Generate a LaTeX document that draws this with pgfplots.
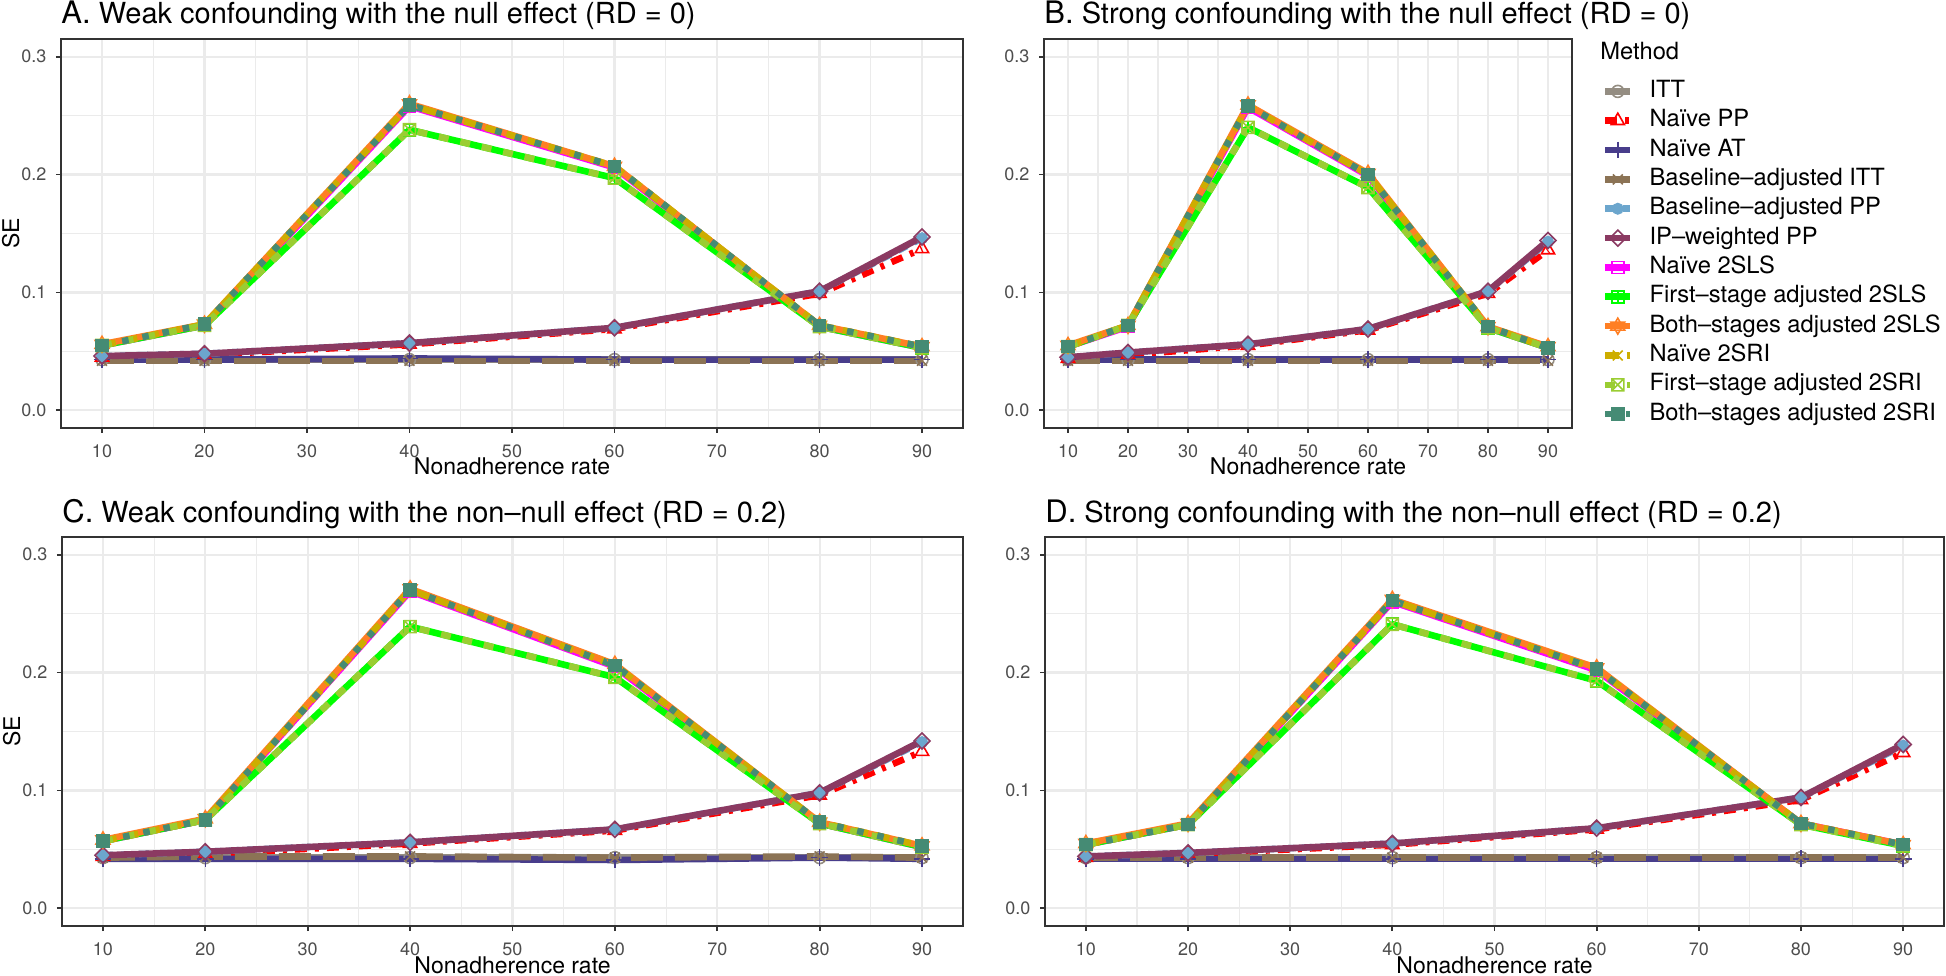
\documentclass[border=0pt]{standalone}
\usepackage{fontspec}
\setmainfont{TeX Gyre Heros}
\usepackage{pgfplots}
\usepackage{pgfplotstable}
\pgfplotsset{compat=1.18}

\definecolor{cITT}{HTML}{948D82}
\definecolor{cNPP}{HTML}{FF0000}
\definecolor{cNAT}{HTML}{483D8B}
\definecolor{cBITT}{HTML}{8B7355}
\definecolor{cBPP}{HTML}{6CA6CD}
\definecolor{cIPW}{HTML}{8B3A62}
\definecolor{cNSLS}{HTML}{FF00FF}
\definecolor{cFSLS}{HTML}{00FF00}
\definecolor{cBSLS}{HTML}{FF7F24}
\definecolor{cNSRI}{HTML}{CDAD00}
\definecolor{cFSRI}{HTML}{9ACD32}
\definecolor{cBSRI}{HTML}{458B74}
\definecolor{gridc}{HTML}{EBEBEB}
\definecolor{grey20}{HTML}{333333}
\definecolor{grey30}{HTML}{4D4D4D}

\pgfdeclareplotmark{rdiamond}{%
 \pgfpathmoveto{\pgfqpoint{0pt}{\pgfplotmarksize}}%
 \pgfpathlineto{\pgfqpoint{\pgfplotmarksize}{0pt}}%
 \pgfpathlineto{\pgfqpoint{0pt}{-\pgfplotmarksize}}%
 \pgfpathlineto{\pgfqpoint{-\pgfplotmarksize}{0pt}}%
 \pgfpathclose\pgfusepathqstroke}
\pgfdeclareplotmark{sqplus}{%
 \pgfpathrectangle{\pgfqpoint{-\pgfplotmarksize}{-\pgfplotmarksize}}{\pgfqpoint{2\pgfplotmarksize}{2\pgfplotmarksize}}%
 \pgfpathmoveto{\pgfqpoint{-\pgfplotmarksize}{0pt}}\pgfpathlineto{\pgfqpoint{\pgfplotmarksize}{0pt}}%
 \pgfpathmoveto{\pgfqpoint{0pt}{-\pgfplotmarksize}}\pgfpathlineto{\pgfqpoint{0pt}{\pgfplotmarksize}}%
 \pgfusepathqstroke}
\pgfdeclareplotmark{sqtimes}{%
 \pgfpathrectangle{\pgfqpoint{-\pgfplotmarksize}{-\pgfplotmarksize}}{\pgfqpoint{2\pgfplotmarksize}{2\pgfplotmarksize}}%
 \pgfpathmoveto{\pgfqpoint{-\pgfplotmarksize}{-\pgfplotmarksize}}\pgfpathlineto{\pgfqpoint{\pgfplotmarksize}{\pgfplotmarksize}}%
 \pgfpathmoveto{\pgfqpoint{-\pgfplotmarksize}{\pgfplotmarksize}}\pgfpathlineto{\pgfqpoint{\pgfplotmarksize}{-\pgfplotmarksize}}%
 \pgfusepathqstroke}
\pgfdeclareplotmark{david}{%
 \pgfpathmoveto{\pgfpointpolar{90}{\pgfplotmarksize}}%
 \pgfpathlineto{\pgfpointpolar{210}{\pgfplotmarksize}}%
 \pgfpathlineto{\pgfpointpolar{330}{\pgfplotmarksize}}%
 \pgfpathclose
 \pgfpathmoveto{\pgfpointpolar{270}{\pgfplotmarksize}}%
 \pgfpathlineto{\pgfpointpolar{30}{\pgfplotmarksize}}%
 \pgfpathlineto{\pgfpointpolar{150}{\pgfplotmarksize}}%
 \pgfpathclose
 \pgfusepathqstroke}

\pgfplotstableread{
x  itt   npp   nat   bitt  bpp   ipw   nsls  fsls  bsls  nsri  fsri  bsri
10 0.043 0.045 0.043 0.042 0.046 0.046 0.055 0.055 0.056 0.055 0.055 0.055
20 0.043 0.047 0.043 0.042 0.048 0.048 0.072 0.072 0.073 0.073 0.072 0.073
40 0.043 0.056 0.044 0.042 0.057 0.057 0.258 0.238 0.260 0.259 0.238 0.259
60 0.043 0.069 0.043 0.042 0.070 0.070 0.206 0.197 0.207 0.207 0.197 0.207
80 0.043 0.099 0.043 0.042 0.101 0.101 0.071 0.071 0.072 0.072 0.071 0.072
90 0.043 0.137 0.043 0.042 0.146 0.147 0.053 0.053 0.054 0.054 0.053 0.054
}\tabA
\pgfplotstableread{
x  itt   npp   nat   bitt  bpp   ipw   nsls  fsls  bsls  nsri  fsri  bsri
10 0.043 0.044 0.043 0.042 0.045 0.045 0.054 0.054 0.055 0.054 0.054 0.054
20 0.043 0.047 0.043 0.042 0.049 0.049 0.071 0.072 0.072 0.072 0.072 0.072
40 0.043 0.055 0.043 0.042 0.056 0.056 0.257 0.240 0.259 0.258 0.240 0.258
60 0.043 0.068 0.043 0.042 0.069 0.069 0.199 0.189 0.201 0.200 0.189 0.200
80 0.043 0.099 0.043 0.042 0.101 0.101 0.070 0.070 0.071 0.071 0.070 0.071
90 0.043 0.136 0.043 0.042 0.143 0.144 0.053 0.053 0.054 0.053 0.053 0.053
}\tabB
\pgfplotstableread{
x  itt   npp   nat   bitt  bpp   ipw   nsls  fsls  bsls  nsri  fsri  bsri
10 0.043 0.044 0.042 0.043 0.045 0.045 0.057 0.057 0.058 0.057 0.057 0.057
20 0.043 0.046 0.042 0.044 0.048 0.048 0.075 0.075 0.076 0.075 0.075 0.075
40 0.043 0.055 0.042 0.044 0.056 0.056 0.269 0.239 0.271 0.270 0.239 0.270
60 0.043 0.066 0.041 0.043 0.067 0.067 0.205 0.196 0.207 0.206 0.196 0.206
80 0.043 0.096 0.043 0.044 0.098 0.098 0.072 0.072 0.073 0.073 0.072 0.073
90 0.043 0.133 0.042 0.043 0.141 0.142 0.052 0.052 0.053 0.053 0.052 0.053
}\tabC
\pgfplotstableread{
x  itt   npp   nat   bitt  bpp   ipw   nsls  fsls  bsls  nsri  fsri  bsri
10 0.043 0.043 0.042 0.043 0.044 0.044 0.054 0.054 0.055 0.054 0.054 0.054
20 0.043 0.046 0.042 0.043 0.047 0.047 0.071 0.071 0.072 0.071 0.071 0.071
40 0.043 0.054 0.042 0.043 0.055 0.055 0.260 0.241 0.262 0.261 0.241 0.261
60 0.043 0.067 0.042 0.043 0.068 0.068 0.202 0.193 0.204 0.203 0.193 0.203
80 0.043 0.092 0.042 0.043 0.094 0.094 0.072 0.071 0.072 0.072 0.071 0.072
90 0.043 0.132 0.042 0.043 0.138 0.139 0.054 0.053 0.054 0.054 0.053 0.054
}\tabD

\tikzset{
 lbase/.style={line width=3.3pt, line cap=butt, line join=round},
 lITT/.style={lbase, color=cITT, solid},
 lNPP/.style={lbase, color=cNPP, dash pattern=on 6pt off 4pt on 2pt off 4pt},
 lNAT/.style={lbase, color=cNAT, solid},
 lBITT/.style={lbase, color=cBITT, dash pattern=on 16pt off 6pt},
 lBPP/.style={lbase, color=cBPP, dash pattern=on 5pt off 4pt},
 lIPW/.style={lbase, color=cIPW, solid},
 lNSLS/.style={lbase, color=cNSLS, solid},
 lFSLS/.style={lbase, color=cFSLS, solid},
 lBSLS/.style={lbase, color=cBSLS, solid},
 lNSRI/.style={lbase, color=cNSRI, dash pattern=on 7pt off 4pt},
 lFSRI/.style={lbase, color=cFSRI, dash pattern=on 5pt off 6pt},
 lBSRI/.style={lbase, color=cBSRI, dash pattern=on 3.3pt off 7pt},
}
\pgfplotsset{
 mbase/.style={only marks, mark options={solid, line width=0.8pt}},
 mITT/.style={mbase, color=cITT, mark=o, mark size=3pt},
 mNPP/.style={mbase, color=cNPP, mark=triangle, mark size=3.8pt},
 mNAT/.style={mbase, color=cNAT, mark=+, mark size=4.2pt},
 mBITT/.style={mbase, color=cBITT, mark=x, mark size=3.5pt},
 mBPP/.style={mbase, color=cBPP, mark=*, mark size=2.6pt},
 mIPW/.style={mbase, color=cIPW, mark=rdiamond, mark size=4pt},
 mNSLS/.style={mbase, color=cNSLS, mark=square, mark size=3pt},
 mFSLS/.style={mbase, color=cFSLS, mark=sqplus, mark size=3pt},
 mBSLS/.style={mbase, color=cBSLS, mark=david, mark size=4pt},
 mNSRI/.style={mbase, color=cNSRI, mark=x, mark size=3.5pt},
 mFSRI/.style={mbase, color=cFSRI, mark=sqtimes, mark size=3pt},
 mBSRI/.style={mbase, color=cBSRI, mark=square*, mark size=3pt},
 legline/.style={legend image code/.code={%
   \draw[#1] (0pt,0pt) -- (12.5pt,0pt);
   \draw[mark repeat=2,mark phase=2,##1] plot coordinates {(0pt,0pt) (6.25pt,0pt) (12.5pt,0pt)};}},
 panel/.style={
  scale only axis, height=194.5pt,
  xmin=6, xmax=94, ymin=-0.015, ymax=0.315,
  xtick={10,20,...,90}, minor xtick={15,25,...,85},
  ytick={0,0.1,0.2,0.3}, yticklabels={0.0,0.1,0.2,0.3}, minor ytick={0.05,0.15,0.25},
  grid=both,
  major grid style={color=gridc, line width=1.1pt},
  minor grid style={color=gridc, line width=0.55pt},
  tick pos=left, tick align=outside, major tick length=2.5pt, minor tick length=0pt,
  every tick/.style={color=grey20, line width=0.9pt},
  axis line style={color=grey20, line width=0.9pt},
  tick label style={font=\fontsize{9}{10}\selectfont, color=grey30},
  /pgf/number format/assume math mode=true,
  xticklabel style={inner sep=0pt, anchor=north, yshift=-5.5pt},
  yticklabel style={inner sep=0pt, anchor=east, xshift=-4.6pt},
  xlabel={Nonadherence rate},
  label style={font=\fontsize{11.5}{13}\selectfont},
  xlabel style={at={(axis description cs:0.5,0)}, anchor=base, yshift=-23.5pt},
  ylabel style={at={(axis description cs:0,0.5)}, anchor=base, yshift=21pt},
  title style={at={(axis description cs:0,1)}, anchor=base west, yshift=1.5pt, inner sep=0pt, font=\fontsize{14.5}{16}\selectfont},
 },
}

\newcommand\drawlines[1]{%
 \addplot[lITT,forget plot] table[x=x,y=itt]{#1};
 \addplot[lNPP,forget plot] table[x=x,y=npp]{#1};
 \addplot[lNAT,forget plot] table[x=x,y=nat]{#1};
 \addplot[lBITT,forget plot] table[x=x,y=bitt]{#1};
 \addplot[lBPP,forget plot] table[x=x,y=bpp]{#1};
 \addplot[lIPW,forget plot] table[x=x,y=ipw]{#1};
 \addplot[lNSLS,forget plot] table[x=x,y=nsls]{#1};
 \addplot[lFSLS,forget plot] table[x=x,y=fsls]{#1};
 \addplot[lBSLS,forget plot] table[x=x,y=bsls]{#1};
 \addplot[lNSRI,forget plot] table[x=x,y=nsri]{#1};
 \addplot[lFSRI,forget plot] table[x=x,y=fsri]{#1};
 \addplot[lBSRI,forget plot] table[x=x,y=bsri]{#1};
}
\newcommand\drawmarks[1]{%
 \addplot[mITT,legline=lITT] table[x=x,y=itt]{#1};
 \addplot[mNPP,legline=lNPP] table[x=x,y=npp]{#1};
 \addplot[mNAT,legline=lNAT] table[x=x,y=nat]{#1};
 \addplot[mBITT,legline=lBITT] table[x=x,y=bitt]{#1};
 \addplot[mBPP,legline=lBPP] table[x=x,y=bpp]{#1};
 \addplot[mIPW,legline=lIPW] table[x=x,y=ipw]{#1};
 \addplot[mNSLS,legline=lNSLS] table[x=x,y=nsls]{#1};
 \addplot[mFSLS,legline=lFSLS] table[x=x,y=fsls]{#1};
 \addplot[mBSLS,legline=lBSLS] table[x=x,y=bsls]{#1};
 \addplot[mNSRI,legline=lNSRI] table[x=x,y=nsri]{#1};
 \addplot[mFSRI,legline=lFSRI] table[x=x,y=fsri]{#1};
 \addplot[mBSRI,legline=lBSRI] table[x=x,y=bsri]{#1};
}

\begin{document}
\begin{tikzpicture}
\path[use as bounding box] (0,0) rectangle (973pt,487.5pt);

\begin{axis}[panel, at={(30.5pt,273.5pt)}, anchor=south west, width=451pt,
  ylabel={SE},
  title={{\fontsize{15.5}{16}\selectfont A.} Weak confounding with the null effect (RD = 0)}]
\drawlines{\tabA}
\drawmarks{\tabA}
\end{axis}

\begin{axis}[panel, at={(522pt,273.5pt)}, anchor=south west, width=264pt,
  title={{\fontsize{15.5}{16}\selectfont B.} Strong confounding with the null effect (RD = 0)},
  legend entries={ITT,Naïve PP,Naïve AT,Baseline–adjusted ITT,Baseline–adjusted PP,IP–weighted PP,Naïve 2SLS,First–stage adjusted 2SLS,Both–stages adjusted 2SLS,Naïve 2SRI,First–stage adjusted 2SRI,Both–stages adjusted 2SRI},
  legend cell align=left,
  legend style={at={(axis description cs:1,1)}, anchor=north west, xshift=15pt, yshift=-20.75pt,
    draw=none, fill=none, inner sep=0pt, outer sep=0pt, row sep=3.77pt, column sep=8pt,
    font=\fontsize{11.85}{13}\selectfont,
    nodes={inner sep=0pt, text height=8.5pt, text depth=2.4pt}},
  ]
\drawlines{\tabB}
\drawmarks{\tabB}
\end{axis}

\begin{axis}[panel, at={(31pt,24.5pt)}, anchor=south west, width=450.5pt,
  ylabel={SE},
  title={{\fontsize{15.5}{16}\selectfont C.} Weak confounding with the non–null effect (RD = 0.2)}]
\drawlines{\tabC}
\drawmarks{\tabC}
\end{axis}

\begin{axis}[panel, at={(522.5pt,24.5pt)}, anchor=south west, width=449.5pt,
  title={{\fontsize{15.5}{16}\selectfont D.} Strong confounding with the non–null effect (RD = 0.2)}]
\drawlines{\tabD}
\drawmarks{\tabD}
\end{axis}

\node[anchor=base west, inner sep=0pt, font=\fontsize{11.85}{13}\selectfont] at (800pt,457.75pt) {Method};
\end{tikzpicture}
\end{document}
